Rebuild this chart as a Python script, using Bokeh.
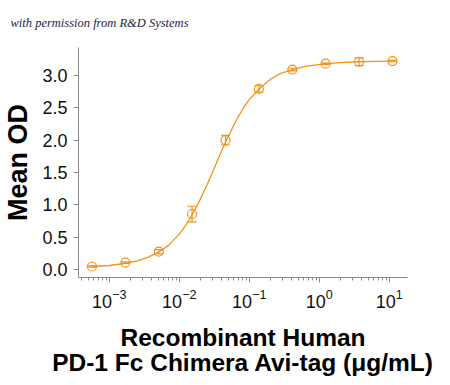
from bokeh.plotting import figure
from bokeh.models import (Range1d, ColumnDataSource, Whisker, FixedTicker, LogTicker,
                          CustomJSTickFormatter)
from bokeh.embed import file_html
from bokeh.resources import INLINE

# data points (concentration in ug/mL, mean OD, error)
conc = [0.000565, 0.0017, 0.0051, 0.0152, 0.0457, 0.137, 0.412, 1.23, 3.70, 11.1]
mean_od = [0.05, 0.11, 0.28, 0.86, 2.00, 2.79, 3.09, 3.18, 3.21, 3.22]
err = [0.01, 0.01, 0.03, 0.12, 0.075, 0.05, 0.02, 0.01, 0.06, 0.01]

# fitted curve
curve_conc = [0.000575, 0.001, 0.00174, 0.00251, 0.00355, 0.00525, 0.00708, 0.01,
              0.0126, 0.0155, 0.020, 0.0251, 0.0316, 0.0398, 0.0468, 0.0631, 0.0794,
              0.1, 0.138, 0.200, 0.282, 0.417, 0.631, 1.26, 2.24, 3.72, 6.31, 11.2]
curve_od = [0.05, 0.065, 0.10, 0.135, 0.19, 0.28, 0.38, 0.55,
            0.70, 0.86, 1.09, 1.32, 1.57, 1.82, 1.99, 2.28, 2.47,
            2.63, 2.79, 2.94, 3.03, 3.09, 3.14, 3.18, 3.20, 3.21, 3.215, 3.22]

y_ticks = [0.0, 0.5, 1.0, 1.5, 2.0, 2.5, 3.0]
watermark = "with permission from R&D Systems"

ORANGE = "#F39318"
FONT = "Liberation Sans"

p = figure(frame_width=329, frame_height=230, x_axis_type="log",
           x_range=Range1d(10 ** -3.44, 10 ** 1.26), y_range=Range1d(-0.12, 3.43),
           output_backend="svg", toolbar_location=None,
           min_border_left=74, min_border_right=31, min_border_top=47, min_border_bottom=92)
p.outline_line_color = None
p.grid.grid_line_color = None
p.background_fill_color = "white"
p.border_fill_color = "white"

p.title.text = watermark
p.title.text_font = "Liberation Serif"
p.title.text_font_style = "italic"
p.title.text_font_size = "12.5px"
p.title.text_color = "#1c2340"
p.title.align = "left"
p.title.vertical_align = "top"
p.title.offset = -68
p.title.standoff = 31

p.line(curve_conc, curve_od, color=ORANGE, line_width=1.3)

src = ColumnDataSource(dict(x=conc, y=mean_od,
                            lo=[m - e for m, e in zip(mean_od, err)],
                            hi=[m + e for m, e in zip(mean_od, err)]))
w = Whisker(source=src, base="x", lower="lo", upper="hi", line_color=ORANGE, line_width=1.2)
for h in (w.upper_head, w.lower_head):
    h.size = 9
    h.line_color = ORANGE
    h.line_width = 1.2
p.add_layout(w)
p.scatter("x", "y", source=src, marker="circle", size=9, fill_color=None,
          line_color=ORANGE, line_width=1.2)

for ax in (p.xaxis[0], p.yaxis[0]):
    ax.axis_line_color = "#8a8a8a"
    ax.major_tick_line_color = "#8a8a8a"
    ax.minor_tick_line_color = "#8a8a8a"
    ax.major_tick_in = 0
    ax.major_tick_out = 5
    ax.minor_tick_in = 0
    ax.minor_tick_out = 3
    ax.major_label_text_font = FONT
    ax.major_label_text_font_size = "18px"
    ax.major_label_text_color = "#111111"
    ax.axis_label_text_font = FONT
    ax.axis_label_text_font_style = "bold"
    ax.axis_label_text_color = "black"

p.yaxis.ticker = FixedTicker(ticks=y_ticks)
p.yaxis.minor_tick_line_color = None
p.yaxis.major_label_standoff = 6
p.yaxis.axis_label = "Mean OD"
p.yaxis.axis_label_text_font_size = "27px"
p.yaxis.axis_label_standoff = 6
p.yaxis.formatter = CustomJSTickFormatter(code="return tick.toFixed(1);")

p.xaxis.ticker = LogTicker(desired_num_ticks=6, num_minor_ticks=10)
p.xaxis.major_label_standoff = 6
p.xaxis.axis_label = "Recombinant Human\nPD-1 Fc Chimera Avi-tag (\u03bcg/mL)"
p.xaxis.axis_label_text_font_size = "24.5px"
p.xaxis.axis_label_text_line_height = 0.95
p.xaxis.axis_label_standoff = 13

open("out.html", "w").write(file_html(p, INLINE))
